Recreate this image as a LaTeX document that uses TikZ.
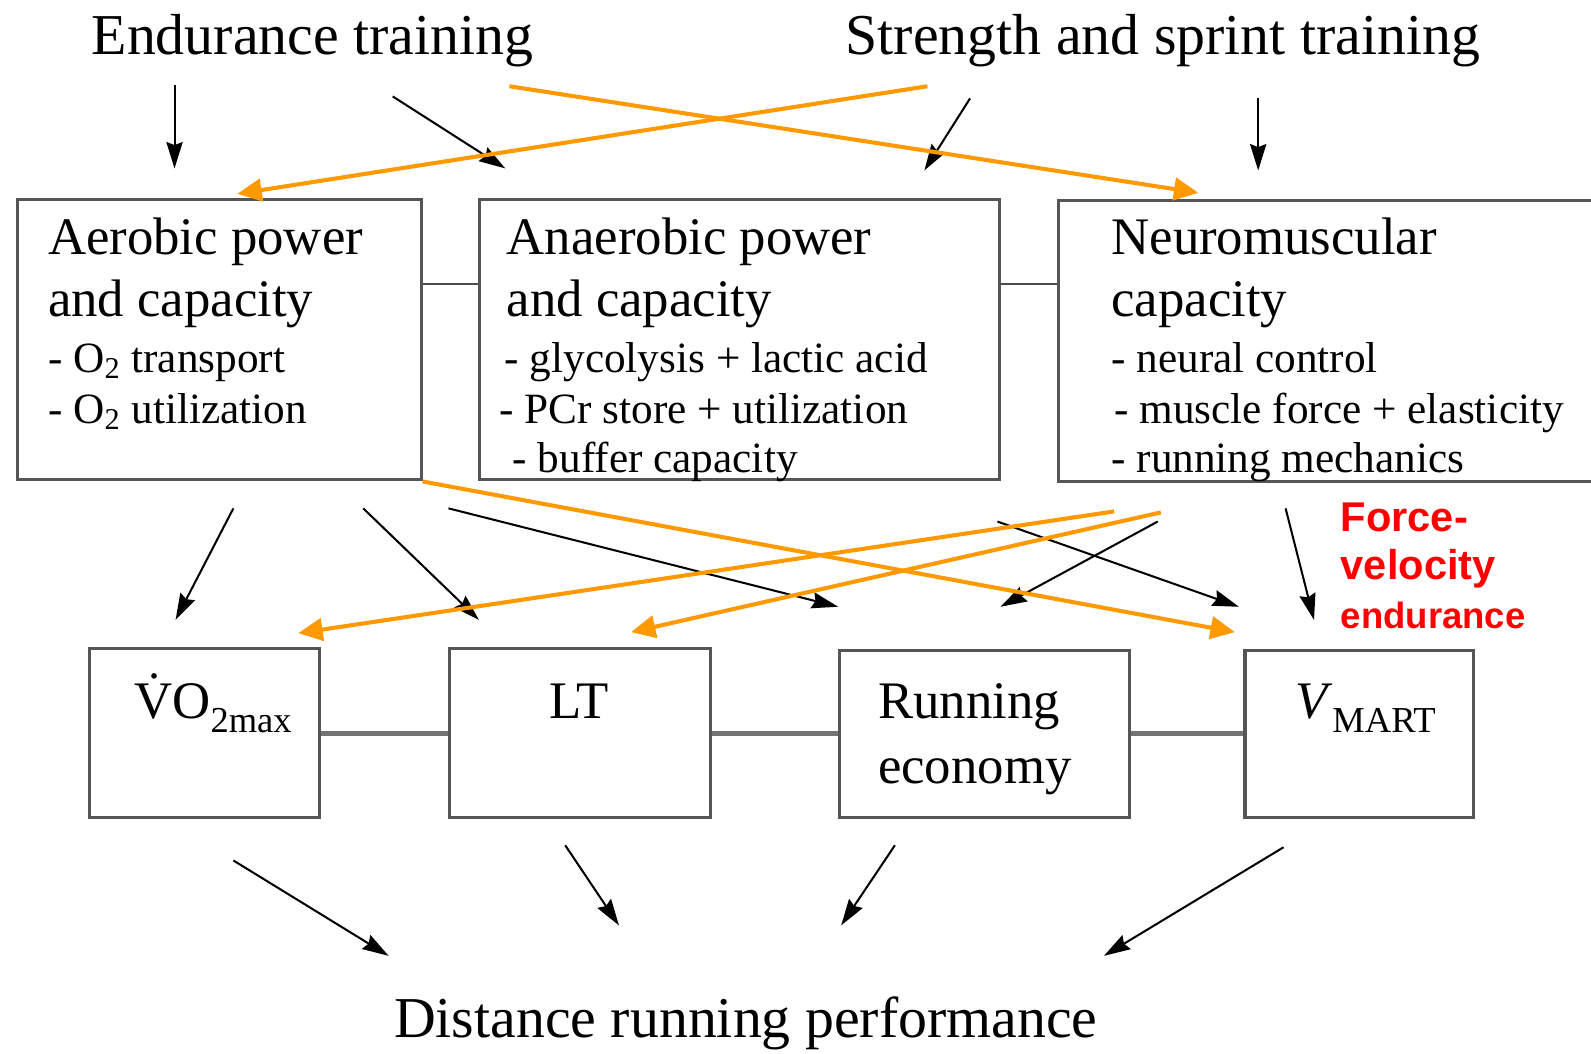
\documentclass[tikz,border=0pt]{standalone}
\usepackage{fontspec}
\setmainfont{Liberation Serif}
\newfontfamily\redfont{Liberation Sans}
\usetikzlibrary{arrows.meta}
\definecolor{orng}{RGB}{255,153,0}
\definecolor{boxgray}{RGB}{85,85,85}
\begin{document}
\begin{tikzpicture}[x=0.5pt,y=-0.5pt,
  box/.style={draw=boxgray, line width=1.5pt, fill=none, inner sep=0pt},
  tlabel/.style={anchor=base west, inner sep=0pt, font=\fontsize{28.5}{34}\selectfont},
  head/.style={anchor=base west, inner sep=0pt, font=\fontsize{26}{30}\selectfont},
  subitem/.style={anchor=base west, inner sep=0pt, font=\fontsize{21.3}{25}\selectfont},
  redbig/.style={anchor=base west, inner sep=0pt, text=red, font=\redfont\bfseries\fontsize{20.5}{24}\selectfont},
  redsmall/.style={anchor=base west, inner sep=0pt, text=red, font=\redfont\bfseries\fontsize{18}{22}\selectfont},
  blk/.style={draw=black, line width=1pt, -{Stealth[length=13pt,width=8pt,inset=1.5pt]}},
  org/.style={draw=orng, line width=2pt, -{Triangle[length=12pt,width=11pt]}},
  thinlink/.style={draw=black!70, line width=1pt},
  thicklink/.style={draw=black!55, line width=2.5pt}]
\fill[white] (0,0) rectangle (1568,1038);
\useasboundingbox (0,0) rectangle (1568,1038);

% top labels
\node[tlabel] (endu) at (90,54) {Endurance training};
\node[tlabel] (stre) at (833,54) {Strength and sprint training};

% top boxes
\node[box, minimum width=199pt, minimum height=138pt] (aer) at (216,335) {};
\node[box, minimum width=256pt, minimum height=138pt] (ana) at (729,335) {};
\node[box, minimum width=268.5pt, minimum height=138.5pt] (neu) at (1311.5,336.5) {};

\node[head] (aer1) at (47,251) {Aerobic power};
\node[head] (aer2) at (47,312) {and capacity};
\node[subitem] (aer3) at (47,367) {- O\textsubscript{2} transport};
\node[subitem] (aer4) at (47,417) {- O\textsubscript{2} utilization};

\node[head] (ana1) at (499,251) {Anaerobic power};
\node[head] (ana2) at (499,312) {and capacity};
\node[subitem] (ana3) at (497,367) {- glycolysis + lactic acid};
\node[subitem] (ana4) at (492,417) {- PCr store + utilization};
\node[subitem] (ana5) at (505,466) {- buffer capacity};

\node[head] (neu1) at (1095,251) {Neuromuscular};
\node[head] (neu2) at (1095,312) {capacity};
\node[subitem] (neu3) at (1095,367) {- neural control};
\node[subitem] (neu4) at (1098,417) {- muscle force + elasticity};
\node[subitem] (neu5) at (1095,466) {- running mechanics};

\coordinate (row1) at (0,280);
\draw[thinlink] (aer.east |- row1) -- (ana.west |- row1);
\draw[thinlink] (ana.east |- row1) -- (neu.west |- row1);

% bottom boxes
\node[box, minimum width=113.5pt, minimum height=83.5pt] (vo2) at (201.5,722.5) {};
\node[box, minimum width=128.5pt, minimum height=83.5pt] (lt) at (571.5,722.5) {};
\node[box, minimum width=143pt, minimum height=82.5pt] (re) at (970,723.5) {};
\node[box, minimum width=112.5pt, minimum height=82.5pt] (vm) at (1339.5,723.5) {};

\node[head] (vo2t) at (132,708) {\.{V}O\raisebox{-7pt}{\fontsize{18}{20}\selectfont 2max}};
\node[head] (ltt) at (541,708) {LT};
\node[head] (ret1) at (865,708) {Running};
\node[head] (ret2) at (865,772) {economy};
\node[head] (vmt) at (1276,708) {\textit{V}\raisebox{-7pt}{\fontsize{18}{20}\selectfont MART}};

\draw[thicklink] (vo2.east) -- (lt.west);
\draw[thicklink] (lt.east) -- (lt.east -| re.west);
\draw[thicklink] (re.east |- lt.east) -- (vm.west |- lt.east);

% red label
\node[redbig] (rf1) at (1321,524) {Force-};
\node[redbig] (rf2) at (1321,571) {velocity};
\node[redsmall] (rf3) at (1321,619) {endurance};

\node[tlabel] (perf) at (388,1022) {Distance running performance};

% coordinates for arrows
\coordinate (a1s) at (172,84);   \coordinate (a1t) at (172,166);
\coordinate (a2s) at (387,95);   \coordinate (a2t) at (498,166);
\coordinate (a3s) at (956,97);   \coordinate (a3t) at (911,168);
\coordinate (a4s) at (1240,97);  \coordinate (a4t) at (1240,168);

\coordinate (m1s) at (230,501);  \coordinate (m1t) at (173,611);
\coordinate (m2s) at (358,501);  \coordinate (m2t) at (472,611);
\coordinate (m3s) at (442,501);  \coordinate (m3t) at (826,598);
\coordinate (m4s) at (983,514);  \coordinate (m4t) at (1221,598);
\coordinate (m5s) at (1141,514); \coordinate (m5t) at (986,598);
\coordinate (m6s) at (1267,501); \coordinate (m6t) at (1295,611);

\coordinate (b1s) at (230,848);  \coordinate (b1t) at (383,942);
\coordinate (b2s) at (557,833);  \coordinate (b2t) at (610,912);
\coordinate (b3s) at (882,833);  \coordinate (b3t) at (829,912);
\coordinate (b4s) at (1265,835); \coordinate (b4t) at (1088,942);

\coordinate (o1s) at (914,85);   \coordinate (o1t) at (234,191);
\coordinate (o2s) at (502,85);   \coordinate (o2t) at (1181,190);
\coordinate (o3t) at (1217,623);
\coordinate (o4s) at (1098,504); \coordinate (o4t) at (294,624);
\coordinate (o5s) at (1144,505); \coordinate (o5t) at (622,623);

% black arrows
\draw[blk] (a1s) -- (a1t);
\draw[blk] (a2s) -- (a2t);
\draw[blk] (a3s) -- (a3t);
\draw[blk] (a4s) -- (a4t);
\draw[blk] (m1s) -- (m1t);
\draw[blk] (m2s) -- (m2t);
\draw[blk] (m3s) -- (m3t);
\draw[blk] (m4s) -- (m4t);
\draw[blk] (m5s) -- (m5t);
\draw[blk] (m6s) -- (m6t);
\draw[blk] (b1s) -- (b1t);
\draw[blk] (b2s) -- (b2t);
\draw[blk] (b3s) -- (b3t);
\draw[blk] (b4s) -- (b4t);

% orange arrows
\draw[org] (o1s) -- (o1t);
\draw[org] (o2s) -- (o2t);
\draw[org] (aer.south east) -- (o3t);
\draw[org] (o4s) -- (o4t);
\draw[org] (o5s) -- (o5t);
\end{tikzpicture}
\end{document}
